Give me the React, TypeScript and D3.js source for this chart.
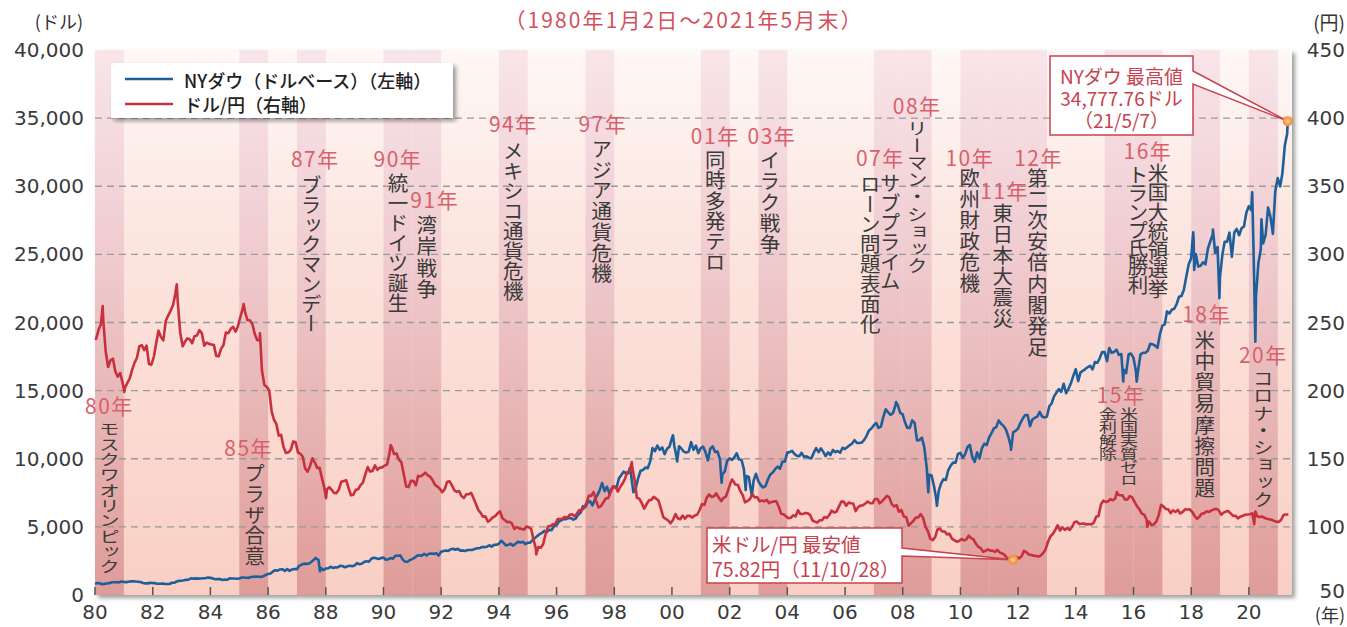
import React from 'react';
import * as d3 from 'd3';

// ---------- DATA ----------
// NY Dow monthly closes, Jan 1980 .. May 2021 (USD)
const dowMonthly: number[] = [
  876, 863, 786, 817, 851, 868, 935, 933, 932, 924, 993, 964, // 1980
  947, 975, 1004, 998, 992, 977, 952, 881, 850, 853, 889, 875, // 1981
  871, 824, 823, 848, 820, 812, 809, 901, 896, 992, 1039, 1047, // 1982
  1076, 1113, 1130, 1226, 1200, 1222, 1199, 1216, 1233, 1225, 1276, 1259, // 1983
  1221, 1155, 1165, 1171, 1105, 1132, 1115, 1224, 1207, 1207, 1189, 1212, // 1984
  1287, 1284, 1267, 1258, 1315, 1335, 1347, 1334, 1329, 1374, 1472, 1547, // 1985
  1571, 1709, 1819, 1784, 1877, 1893, 1775, 1898, 1768, 1878, 1914, 1896, // 1986
  2158, 2224, 2305, 2286, 2292, 2419, 2572, 2663, 2596, 1994, 1834, 1939, // 1987
  1958, 2072, 1988, 2032, 2031, 2142, 2129, 2032, 2113, 2149, 2115, 2169, // 1988
  2342, 2258, 2294, 2419, 2480, 2440, 2661, 2737, 2693, 2645, 2706, 2753, // 1989
  2591, 2627, 2707, 2657, 2877, 2881, 2905, 2614, 2452, 2442, 2560, 2634, // 1990
  2736, 2882, 2914, 2888, 3028, 2907, 3025, 3044, 3017, 3069, 2895, 3169, // 1991
  3223, 3268, 3235, 3359, 3397, 3319, 3394, 3257, 3272, 3226, 3305, 3301, // 1992
  3310, 3371, 3435, 3428, 3527, 3516, 3539, 3651, 3555, 3681, 3684, 3754, // 1993
  3978, 3832, 3636, 3682, 3758, 3625, 3765, 3913, 3843, 3908, 3739, 3834, // 1994
  3844, 4011, 4158, 4321, 4465, 4556, 4708, 4611, 4789, 4755, 5074, 5117, // 1995
  5395, 5486, 5587, 5569, 5643, 5655, 5529, 5616, 5882, 6029, 6522, 6448, // 1996
  6813, 6878, 6583, 7009, 7331, 7673, 8223, 7622, 7945, 7442, 7823, 7908, // 1997
  7907, 8546, 8800, 9063, 8900, 8952, 8883, 7539, 7843, 8592, 9117, 9181, // 1998
  9359, 9307, 9786, 10789, 10560, 10971, 10655, 10829, 10337, 10730, 10878, 11497, // 1999
  10941, 10128, 10922, 10734, 10522, 10448, 10522, 11215, 10651, 10971, 10414, 10787, // 2000
  10887, 10495, 9879, 10735, 10912, 10502, 10523, 9950, 8848, 9075, 9852, 10022, // 2001
  9920, 10106, 10404, 9946, 9925, 9243, 8737, 8664, 7592, 8397, 8896, 8342, // 2002
  8054, 7891, 7992, 8480, 8850, 8985, 9234, 9416, 9275, 9801, 9782, 10454, // 2003
  10488, 10584, 10358, 10226, 10188, 10435, 10140, 10174, 10080, 10027, 10428, 10783, // 2004
  10490, 10766, 10504, 10193, 10467, 10275, 10641, 10482, 10569, 10440, 10806, 10718, // 2005
  10865, 10993, 11109, 11367, 11168, 11150, 11186, 11381, 11679, 12081, 12222, 12463, // 2006
  12622, 12269, 12354, 13063, 13628, 13409, 13212, 13358, 13896, 13930, 13372, 13265, // 2007
  12650, 12266, 12263, 12820, 12638, 11350, 11378, 11544, 10851, 9325, 8829, 8776, // 2008
  8001, 7063, 7609, 8168, 8500, 8447, 9172, 9496, 9712, 9713, 10345, 10428, // 2009
  10067, 10325, 10857, 11009, 10137, 9774, 10466, 10015, 10788, 11118, 11006, 11578, // 2010
  11892, 12226, 12320, 12811, 12570, 12414, 12143, 11614, 10913, 11955, 12046, 12218, // 2011
  12633, 12952, 13212, 13214, 12393, 12880, 13009, 13091, 13437, 13096, 13026, 13104, // 2012
  13861, 14054, 14579, 14840, 15116, 14910, 15500, 14810, 15130, 15546, 16086, 16577, // 2013
  15699, 16322, 16458, 16581, 16717, 16827, 16563, 17098, 17043, 17391, 17828, 17823, // 2014
  17165, 18133, 17776, 17841, 18011, 17620, 17690, 16528, 16285, 17664, 17720, 17425, // 2015
  16466, 16517, 17685, 17774, 17787, 17930, 18432, 18401, 18308, 18142, 19124, 19763, // 2016
  19864, 20812, 20663, 20941, 21009, 21350, 21891, 21948, 22405, 23377, 24272, 24719, // 2017
  26149, 25029, 24103, 24163, 24416, 24271, 25415, 25965, 26458, 25116, 25538, 23327, // 2018
  25000, 25916, 25929, 26593, 24815, 26600, 26864, 26403, 26917, 27046, 28051, 28538, // 2019
  28256, 25409, 21917, 24346, 25383, 25813, 26428, 28430, 27782, 26502, 29639, 30606, // 2020
  29983, 30932, 32982, 33875, 34529, // 2021
];

// Intra-month highs/lows of the Dow visible in the chart
const dowExtremeDates: string[] = [
  '1980-01-02', '1987-08-25', '1987-10-19', '1998-07-17', '2000-01-14', '2000-03-07',
  '2001-09-21', '2002-07-23', '2002-10-09', '2007-10-09', '2008-11-20', '2009-03-09',
  '2011-10-03', '2015-08-25', '2016-02-11', '2018-01-26', '2018-02-08', '2018-10-03',
  '2018-12-24', '2020-02-12', '2020-03-23', '2020-06-08', '2021-05-07',
];
const dowExtremeValues: number[] = [
  825, 2722, 1739, 9338, 11723, 9796,
  8236, 7703, 7286, 14165, 7552, 6547,
  10655, 15666, 15660, 26617, 23860, 26828,
  21792, 29551, 18592, 27572, 34777.76,
];

// USD/JPY monthly averages, Jan 1980 .. May 2021 (yen)
const yenMonthly: number[] = [
  238.0, 244.6, 248.5, 251.6, 228.9, 217.3, 222.2, 223.4, 214.1, 210.2, 212.9, 205.8, // 1980
  202.2, 205.8, 208.8, 215.2, 220.4, 224.1, 232.4, 233.4, 229.7, 233.0, 219.5, 219.0, // 1981
  224.8, 235.1, 244.0, 239.3, 236.9, 251.1, 255.1, 258.6, 262.7, 271.3, 264.1, 242.5, // 1982
  232.5, 236.1, 238.3, 237.7, 234.8, 240.0, 240.5, 244.4, 242.2, 233.0, 235.3, 234.3, // 1983
  233.9, 233.4, 225.4, 225.2, 230.6, 233.5, 242.7, 242.2, 245.4, 246.8, 243.3, 247.3, // 1984
  254.2, 260.5, 257.9, 251.6, 251.7, 248.9, 241.7, 237.2, 236.9, 214.8, 204.1, 202.8, // 1985
  200.1, 184.6, 178.8, 175.6, 167.0, 167.5, 158.6, 154.2, 154.7, 156.5, 162.7, 162.1, // 1986
  154.5, 153.5, 151.6, 142.9, 140.5, 144.5, 150.3, 147.3, 143.3, 143.3, 135.4, 128.4, // 1987
  127.4, 129.1, 127.2, 124.9, 124.8, 127.5, 133.1, 133.6, 134.3, 128.7, 123.2, 123.6, // 1988
  127.2, 127.7, 130.5, 132.5, 138.4, 143.9, 140.6, 141.1, 145.1, 141.9, 143.5, 143.7, // 1989
  145.0, 145.7, 153.3, 158.5, 153.5, 153.8, 149.2, 147.5, 138.4, 129.6, 129.2, 133.9, // 1990
  133.7, 130.5, 137.4, 137.1, 138.2, 139.8, 137.8, 136.8, 134.3, 130.8, 129.6, 128.0, // 1991
  125.5, 127.7, 132.9, 133.6, 130.6, 126.9, 125.7, 126.3, 122.6, 121.2, 123.9, 123.9, // 1992
  125.0, 120.8, 117.0, 112.4, 110.3, 107.4, 107.7, 103.7, 105.1, 106.9, 107.9, 109.9, // 1993
  111.4, 106.3, 105.1, 103.5, 103.8, 102.5, 98.5, 99.9, 98.8, 98.4, 98.0, 100.2, // 1994
  99.8, 98.2, 90.8, 83.7, 85.2, 84.6, 87.2, 94.6, 100.3, 100.7, 101.9, 101.9, // 1995
  105.8, 105.8, 105.9, 107.4, 106.5, 108.8, 109.2, 107.8, 109.8, 112.4, 112.3, 113.9, // 1996
  117.9, 123.0, 122.8, 125.6, 119.2, 114.3, 115.1, 117.9, 120.9, 121.1, 125.4, 129.7, // 1997
  129.6, 125.9, 129.0, 131.8, 135.0, 140.3, 140.7, 144.7, 134.5, 121.3, 120.6, 117.4, // 1998
  113.3, 116.7, 119.5, 119.8, 122.0, 120.7, 119.3, 113.2, 106.9, 105.9, 104.7, 102.6, // 1999
  105.2, 109.4, 106.3, 105.6, 108.3, 106.1, 108.2, 108.1, 106.8, 108.4, 108.9, 112.2, // 2000
  116.7, 116.1, 121.2, 123.8, 122.0, 122.4, 124.6, 121.5, 118.9, 121.3, 122.3, 127.3, // 2001
  132.7, 133.6, 131.1, 130.8, 126.4, 123.3, 118.0, 119.0, 120.5, 123.9, 121.6, 121.9, // 2002
  118.8, 119.3, 118.7, 119.9, 117.4, 118.3, 118.7, 118.7, 114.8, 109.5, 109.2, 107.7, // 2003
  106.3, 106.7, 108.5, 107.7, 112.2, 109.4, 109.4, 110.2, 110.0, 108.8, 104.7, 103.8, // 2004
  103.3, 104.9, 104.9, 107.2, 106.6, 108.7, 111.9, 110.6, 111.2, 114.9, 118.5, 118.5, // 2005
  115.5, 117.9, 117.3, 117.1, 111.5, 114.5, 115.6, 115.9, 117.2, 118.6, 117.3, 117.3, // 2006
  120.5, 120.5, 117.3, 118.8, 120.8, 122.7, 121.6, 116.7, 115.0, 115.9, 111.1, 112.4, // 2007
  107.6, 107.1, 100.8, 102.7, 104.4, 106.9, 106.9, 109.4, 106.6, 100.0, 96.9, 91.3, // 2008
  90.3, 92.5, 97.9, 98.8, 96.6, 96.6, 94.5, 94.9, 91.4, 90.3, 89.1, 89.6, // 2009
  91.1, 90.1, 90.7, 93.5, 91.8, 90.9, 87.7, 85.4, 84.4, 81.8, 82.5, 83.4, // 2010
  82.6, 82.5, 81.6, 83.2, 81.1, 80.5, 79.3, 77.0, 76.8, 76.7, 77.5, 77.8, // 2011
  76.9, 78.5, 82.4, 81.4, 79.7, 79.3, 78.9, 78.7, 78.2, 79.0, 80.9, 83.6, // 2012
  89.2, 93.2, 94.8, 97.7, 101.1, 97.3, 99.7, 97.8, 99.2, 97.8, 100.1, 103.5, // 2013
  103.9, 102.1, 102.3, 102.5, 101.8, 102.1, 101.8, 102.9, 107.4, 108.0, 116.4, 119.3, // 2014
  118.3, 118.8, 120.4, 119.5, 120.8, 123.7, 123.3, 123.1, 120.1, 120.0, 122.6, 121.6, // 2015
  118.3, 115.0, 113.0, 109.8, 109.0, 105.4, 103.9, 101.3, 101.8, 103.8, 108.6, 116.1, // 2016
  114.9, 113.1, 112.9, 110.1, 112.2, 110.9, 112.4, 109.8, 111.0, 112.9, 112.8, 112.9, // 2017
  110.9, 107.8, 106.0, 107.5, 109.7, 110.1, 111.5, 110.9, 112.1, 112.8, 113.3, 112.2, // 2018
  108.9, 110.5, 111.2, 111.6, 109.9, 108.1, 108.2, 106.2, 107.5, 108.1, 108.9, 109.1, // 2019
  109.3, 110.0, 107.8, 107.8, 107.2, 107.6, 106.7, 106.0, 105.6, 105.2, 104.4, 103.8, // 2020
  103.7, 105.4, 108.7, 109.1, 109.1, // 2021
];

const yenExtremeDates: string[] = [
  '1980-01-02', '1980-04-07', '1981-01-06', '1982-11-01', '1985-02-25', '1985-09-20',
  '1988-01-04', '1990-04-02', '1995-04-19', '1998-08-11', '2002-01-31', '2011-10-28',
  '2015-06-05', '2016-06-24', '2020-03-09', '2020-03-24',
];
const yenExtremeValues: number[] = [
  238.5, 262.0, 199.0, 278.0, 263.6, 242.0,
  121.0, 160.0, 79.75, 147.6, 134.8, 75.82,
  125.6, 100.0, 102.0, 111.3,
];

const leftTicks: number[] = [0, 5000, 10000, 15000, 20000, 25000, 30000, 35000, 40000];
const rightTicks: number[] = [50, 100, 150, 200, 250, 300, 350, 400, 450];
const yearTicks: number[] = d3.range(1980, 2021, 2);

const eventYears: number[] = [1980, 1985, 1987, 1990, 1991, 1994, 1997, 2001, 2003, 2007, 2008, 2010, 2011, 2012, 2015, 2016, 2018, 2020];
const eventLabels: string[] = ['80年', '85年', '87年', '90年', '91年', '94年', '97年', '01年', '03年', '07年', '08年', '10年', '11年', '12年', '15年', '16年', '18年', '20年'];
const eventTexts: string[][] = [
  ['モスクワオリンピック'], ['プラザ合意'], ['ブラックマンデー'], ['統一ドイツ誕生'], ['湾岸戦争'],
  ['メキシコ通貨危機'], ['アジア通貨危機'], ['同時多発テロ'], ['イラク戦争'],
  ['サブプライム', 'ローン問題表面化'], ['リーマン・ショック'], ['欧州財政危機'], ['東日本大震災'],
  ['第二次安倍内閣発足'], ['米国実質ゼロ', '金利解除'], ['米国大統領選挙', 'トランプ氏勝利'],
  ['米中貿易摩擦問題'], ['コロナ・ショック'],
];

const dowPeakLines: string[] = ['NYダウ 最高値', '34,777.76ドル', '（21/5/7）'];
const yenLowLines: string[] = ['米ドル/円 最安値', '75.82円（11/10/28）'];

// ---------- LAYOUT ----------
const W = 1347, H = 627;
const PL = 95, PR = 1292, PT = 50, PB = 595;

type Col = { dx: number; top: number; bottom: number; fs?: number };
const eventLayout: { lx: number; ly: number; cols: Col[] }[] = [
  { lx: 0, ly: 405, cols: [{ dx: 0, top: 421, bottom: 574 }] },
  { lx: -5, ly: 447, cols: [{ dx: 1, top: 463, bottom: 567 }] },
  { lx: 4, ly: 158, cols: [{ dx: 0, top: 175, bottom: 333 }] },
  { lx: 0, ly: 158, cols: [{ dx: 0, top: 173, bottom: 313 }] },
  { lx: 8, ly: 199, cols: [{ dx: 0, top: 215, bottom: 300 }] },
  { lx: 0, ly: 123, cols: [{ dx: 0, top: 141, bottom: 301 }] },
  { lx: 3, ly: 123, cols: [{ dx: 2, top: 139, bottom: 284 }] },
  { lx: 0, ly: 135, cols: [{ dx: 0, top: 150, bottom: 272 }] },
  { lx: -1, ly: 135, cols: [{ dx: -3, top: 150, bottom: 255 }] },
  { lx: -8, ly: 157, cols: [{ dx: 2, top: 173, bottom: 291 }, { dx: -18, top: 174, bottom: 334 }] },
  { lx: 0, ly: 105, cols: [{ dx: 0, top: 120, bottom: 274 }] },
  { lx: -5, ly: 157, cols: [{ dx: -5, top: 168, bottom: 294 }] },
  { lx: 1, ly: 190, cols: [{ dx: -1, top: 203, bottom: 329 }] },
  { lx: 6, ly: 157, cols: [{ dx: 5, top: 168, bottom: 358 }] },
  { lx: 2, ly: 394, cols: [{ dx: 10, top: 407, bottom: 487, fs: 18 }, { dx: -11, top: 407, bottom: 461, fs: 18 }] },
  { lx: 0, ly: 150, cols: [{ dx: 10, top: 163, bottom: 298 }, { dx: -10, top: 165, bottom: 293 }] },
  { lx: 1, ly: 313, cols: [{ dx: -1, top: 330, bottom: 499 }] },
  { lx: 0, ly: 354, cols: [{ dx: 0, top: 370, bottom: 508 }] },
];

const JP = "'Noto Sans CJK JP', 'Noto Sans', sans-serif";
const NUM = "'DejaVu Sans', 'Noto Sans', sans-serif";
const RED_LABEL = '#d9606b';
const CALLOUT = '#c8414d';
const BLUE = '#1f5f99';
const RED = '#c8303d';

const parse = d3.timeParse('%Y-%m-%d');

function monthlySeries(vals: number[], day: number | 'end') {
  return vals.map((v, i) => {
    const y = 1980 + Math.floor(i / 12);
    const m = i % 12;
    const d = day === 'end' ? new Date(y, m + 1, 0) : new Date(y, m, day);
    return { date: d, value: v };
  });
}
function merge(base: { date: Date; value: number }[], dates: string[], vals: number[]) {
  const ex = dates.map((s, i) => ({ date: parse(s) as Date, value: vals[i] }));
  return [...base, ...ex].sort((a, b) => +a.date - +b.date);
}

const dowSeries = merge(monthlySeries(dowMonthly, 'end'), dowExtremeDates, dowExtremeValues);
const yenSeries = merge(monthlySeries(yenMonthly, 15), yenExtremeDates, yenExtremeValues);

const x = d3.scaleTime().domain([new Date(1980, 0, 1), new Date(2021, 5, 30)]).range([PL, PR]);
const yL = d3.scaleLinear().domain([0, 40000]).range([PB, PT]);
const yR = d3.scaleLinear().domain([50, 450]).range([PB, PT]);

const bandX0 = (yr: number) => x(new Date(yr, 0, 1));
const bandX1 = (yr: number) => x(new Date(yr + 1, 0, 1));
const bandC = (yr: number) => (bandX0(yr) + bandX1(yr)) / 2;

// Vertical (tategaki) column: one text element, writing-mode vertical-rl
function VText({ cx, top, bottom, text, fs = 20.5 }: { cx: number; top: number; bottom: number; text: string; fs?: number }) {
  const n = Array.from(text).length;
  const step = (bottom - top) / n;
  const squash = step < fs * 0.85;
  const sy = squash ? step / fs : 1;
  const ls = squash ? 0 : step - fs;
  return (
    <text
      transform={`translate(${cx},${top}) scale(1,${sy})`}
      x={0}
      y={0}
      fontFamily={JP}
      fontSize={fs}
      fill="#3a3a3a"
      letterSpacing={ls}
      style={{ writingMode: 'vertical-rl' as any }}
    >
      {text}
    </text>
  );
}

export default function App() {
  const lineDow = d3.line<{ date: Date; value: number }>().x(d => x(d.date)).y(d => yL(d.value));
  const lineYen = d3.line<{ date: Date; value: number }>().x(d => x(d.date)).y(d => yR(d.value));

  const dowMaxIdx = dowExtremeValues.indexOf(d3.max(dowExtremeValues) as number);
  const dowTip = { x: x(parse(dowExtremeDates[dowMaxIdx]) as Date), y: yL(dowExtremeValues[dowMaxIdx]) };
  const yenMinIdx = yenExtremeValues.indexOf(d3.min(yenExtremeValues) as number);
  const yenTip = { x: x(parse(yenExtremeDates[yenMinIdx]) as Date), y: yR(yenExtremeValues[yenMinIdx]) };

  const b1 = { l: 1050, t: 56, r: 1193, b: 135 };
  const b2 = { l: 707, t: 528, r: 902, b: 583 };
  const call1 = `M${b1.l},${b1.t}H${b1.r}V71L${dowTip.x},${dowTip.y}L${b1.r},84V${b1.b}H${b1.l}Z`;
  const call2 = `M${b2.l},${b2.t}H${b2.r}V548L${yenTip.x},${yenTip.y}L${b2.r},556V${b2.b}H${b2.l}Z`;
  const c1x = (b1.l + b1.r) / 2;

  return (
    <svg width={W} height={H} style={{ position: 'absolute', left: 0, top: 0 }} xmlns="http://www.w3.org/2000/svg">
      <defs>
        <linearGradient id="gLight" gradientUnits="userSpaceOnUse" x1="0" y1={PT} x2="0" y2={PB}>
          <stop offset="0" stopColor="#fef8f6" />
          <stop offset="0.35" stopColor="#fce5df" />
          <stop offset="1" stopColor="#f9cfc4" />
        </linearGradient>
        <linearGradient id="gDark" gradientUnits="userSpaceOnUse" x1="0" y1={PT} x2="0" y2={PB}>
          <stop offset="0" stopColor="#f8e5ea" />
          <stop offset="0.35" stopColor="#f0cdd1" />
          <stop offset="1" stopColor="#df9c98" />
        </linearGradient>
        <filter id="shadow" x="-5%" y="-5%" width="110%" height="115%">
          <feDropShadow dx="3" dy="3" stdDeviation="2.2" floodColor="#000" floodOpacity="0.38" />
        </filter>
        <radialGradient id="dot">
          <stop offset="0" stopColor="#ffd9b0" />
          <stop offset="0.5" stopColor="#f8a55a" />
          <stop offset="1" stopColor="#f08c3a" />
        </radialGradient>
      </defs>

      {/* Title */}
      <text x={683} y={19} textAnchor="middle" dominantBaseline="central" fontFamily={JP} fontSize={21} fill="#d4505a" textLength={357} lengthAdjust="spacing">（1980年1月2日～2021年5月末）</text>
      <text x={83} y={21} textAnchor="end" dominantBaseline="central" fontFamily={JP} fontSize={18} fill="#333">(ドル)</text>
      <text x={1345} y={21} textAnchor="end" dominantBaseline="central" fontFamily={JP} fontSize={19} fill="#333">(円)</text>
      <text x={1345} y={614} textAnchor="end" dominantBaseline="central" fontFamily={JP} fontSize={18} fill="#333">(年)</text>

      {/* Plot background */}
      <rect x={PL} y={PT} width={PR - PL} height={PB - PT} fill="url(#gLight)" filter="url(#shadow)" />
      {eventYears.map(yr => (
        <rect key={yr} x={bandX0(yr)} y={PT} width={bandX1(yr) - bandX0(yr)} height={PB - PT} fill="url(#gDark)" />
      ))}

      {/* Grid */}
      {leftTicks.filter(v => v > 0 && v < 40000).map(v => (
        <line key={v} x1={PL} x2={PR} y1={yL(v)} y2={yL(v)} stroke="#9a9a9a" strokeWidth={1.4} strokeDasharray="7 5" />
      ))}

      {/* Bottom ticks */}
      {yearTicks.map(yr => (
        <line key={yr} x1={x(new Date(yr, 0, 1))} x2={x(new Date(yr, 0, 1))} y1={PB - 8} y2={PB} stroke="#555" strokeWidth={1.5} />
      ))}

      {/* Axis labels */}
      {leftTicks.map(v => (
        <text key={v} x={84} y={yL(v)} textAnchor="end" dominantBaseline="central" fontFamily={NUM} fontSize={20} fill="#3a3a3a">{d3.format(',')(v)}</text>
      ))}
      {rightTicks.map(v => (
        <text key={v} x={1345} y={v === 50 ? yR(v) - 4 : yR(v)} textAnchor="end" dominantBaseline="central" fontFamily={NUM} fontSize={20} fill="#3a3a3a">{v}</text>
      ))}
      {yearTicks.map(yr => (
        <text key={yr} x={x(new Date(yr, 0, 1))} y={612} textAnchor="middle" dominantBaseline="central" fontFamily={NUM} fontSize={20} fill="#3a3a3a">{String(yr % 100).padStart(2, '0')}</text>
      ))}

      {/* Event annotations */}
      {eventYears.map((yr, i) => {
        const lay = eventLayout[i];
        const c = bandC(yr);
        return (
          <g key={yr}>
            <text x={c + lay.lx} y={lay.ly} textAnchor="middle" dominantBaseline="central" fontFamily={JP} fontSize={21} letterSpacing={1.5} fill={RED_LABEL}>{eventLabels[i]}</text>
            {eventTexts[i].map((t, j) => {
              const col = lay.cols[j];
              return <VText key={j} cx={c + col.dx} top={col.top} bottom={col.bottom} text={t} fs={col.fs} />;
            })}
          </g>
        );
      })}

      {/* Lines */}
      <path d={lineDow(dowSeries) || ''} fill="none" stroke={BLUE} strokeWidth={2.6} strokeLinejoin="round" />
      <path d={lineYen(yenSeries) || ''} fill="none" stroke={RED} strokeWidth={2.6} strokeLinejoin="round" />

      {/* Legend */}
      <rect x={111} y={63} width={342} height={55} fill="#fff" filter="url(#shadow)" />
      <line x1={125} x2={173} y1={79} y2={79} stroke={BLUE} strokeWidth={2.5} />
      <line x1={125} x2={173} y1={104} y2={104} stroke={RED} strokeWidth={2.5} />
      <text x={184} y={80} dominantBaseline="central" fontFamily={JP} fontSize={18} fontWeight={500} fill="#222">NYダウ（ドルベース）（左軸）</text>
      <text x={184} y={104} dominantBaseline="central" fontFamily={JP} fontSize={18} fontWeight={500} fill="#222">ドル/円（右軸）</text>

      {/* Callouts */}
      <path d={call1} fill="#fff" stroke={CALLOUT} strokeWidth={1.5} strokeLinejoin="miter" />
      <text fontFamily={JP} fontSize={19} fill={CALLOUT} textAnchor="middle" x={c1x} y={84}>
        {dowPeakLines.map((t, i) => (
          <tspan key={i} x={c1x} dy={i === 0 ? 0 : 22}>{t}</tspan>
        ))}
      </text>
      <path d={call2} fill="#fff" stroke={CALLOUT} strokeWidth={1.5} strokeLinejoin="miter" />
      <text fontFamily={JP} fontSize={19.5} fill={CALLOUT} x={712} y={552}>
        {yenLowLines.map((t, i) => (
          <tspan key={i} x={712} dy={i === 0 ? 0 : 25}>{t}</tspan>
        ))}
      </text>
      <circle cx={dowTip.x} cy={dowTip.y} r={5} fill="url(#dot)" />
      <circle cx={yenTip.x} cy={yenTip.y} r={5} fill="url(#dot)" />
    </svg>
  );
}
